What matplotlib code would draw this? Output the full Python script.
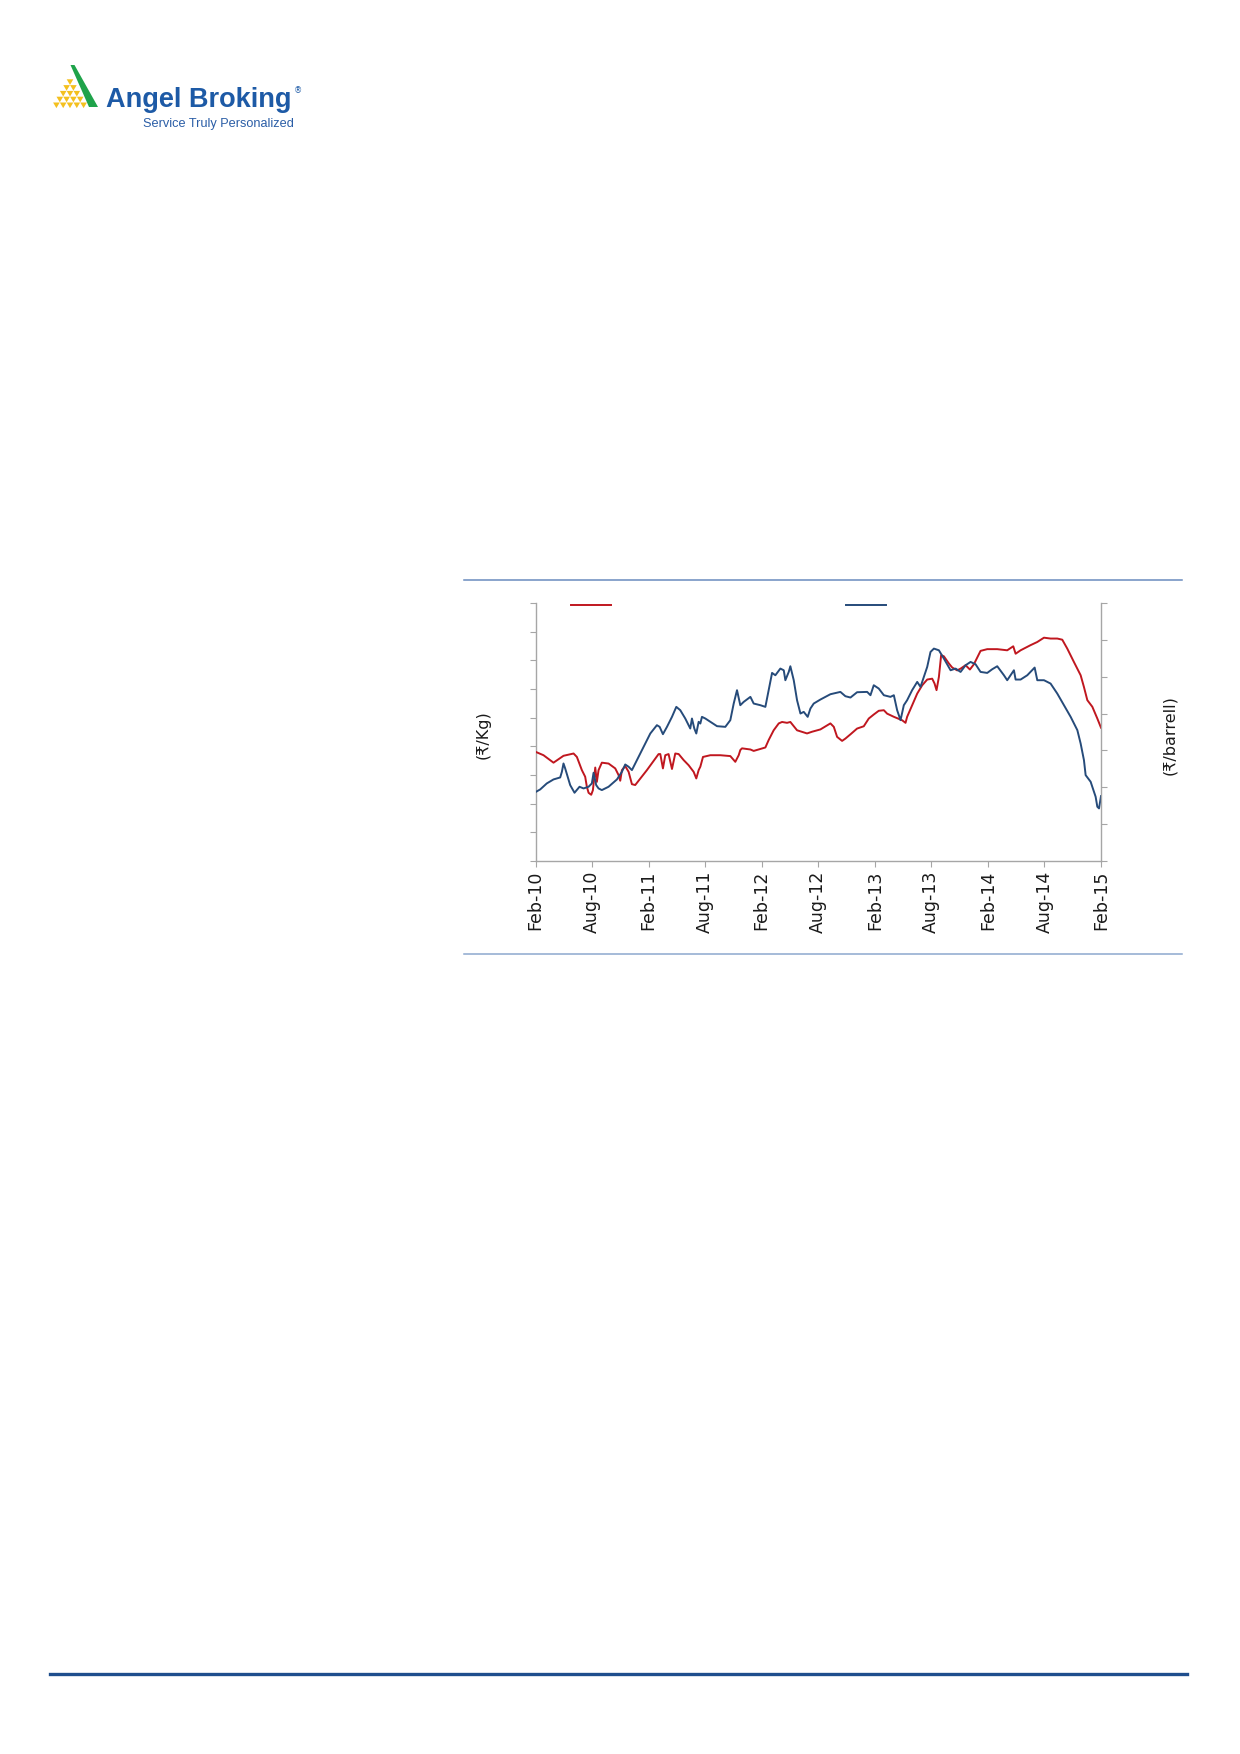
import matplotlib
matplotlib.use('Agg')
import matplotlib.pyplot as plt
from matplotlib.lines import Line2D
from matplotlib.patches import Polygon

# months counted from Feb-10 (0) to Feb-15 (60)
red_months = [0.00, 0.85, 1.91, 2.97, 4.04, 4.39, 4.92, 5.27, 5.45, 5.63,
              5.91, 6.09, 6.34, 6.51, 6.69, 7.04, 7.75, 8.46, 8.81, 8.99,
              9.17, 9.52, 9.88, 10.23, 10.58, 11.82, 13.06, 13.24, 13.52, 13.77,
              14.12, 14.48, 14.83, 15.19, 15.72, 16.25, 16.78, 17.06, 17.31, 17.49,
              17.77, 18.55, 19.61, 20.67, 21.20, 21.56, 21.73, 21.91, 22.80, 23.15,
              24.39, 24.74, 25.27, 25.81, 26.16, 26.69, 27.04, 27.75, 28.81, 29.35,
              30.23, 31.29, 31.65, 32.00, 32.53, 32.88, 33.42, 34.12, 34.83, 35.36,
              35.89, 36.42, 36.96, 37.31, 38.02, 38.90, 39.26, 39.43, 39.96, 40.50,
              41.03, 41.56, 42.09, 42.34, 42.55, 42.80, 43.04, 43.33, 43.86, 44.21,
              44.74, 45.10, 45.63, 46.09, 46.51, 47.22, 47.93, 48.99, 50.05, 50.69,
              50.94, 51.47, 52.53, 53.24, 53.95, 54.65, 55.36, 55.89, 56.42, 57.13,
              57.84, 58.19, 58.55, 59.08, 59.61, 60.00]
# Rs/Kg (left axis)
red_vals = [68.1, 66.9, 64.3, 66.7, 67.5, 66.3, 61.7, 59.4, 55.9, 53.8,
            53.1, 54.7, 62.6, 57.6, 61.7, 64.3, 64.0, 62.3, 60.0, 58.0,
            61.7, 63.1, 61.1, 56.8, 56.5, 61.7, 67.3, 67.3, 62.3, 66.9,
            67.3, 62.1, 67.5, 67.3, 65.2, 63.4, 61.1, 58.8, 61.7, 62.9,
            66.3, 66.9, 66.9, 66.6, 64.6, 66.9, 68.7, 69.3, 68.9, 68.4,
            69.6, 72.2, 75.6, 78.0, 78.5, 78.2, 78.5, 75.6, 74.5, 75.1,
            75.9, 78.0, 76.8, 73.3, 71.9, 72.7, 74.2, 76.2, 77.0, 79.7,
            81.1, 82.4, 82.6, 81.4, 80.3, 79.1, 78.2, 80.3, 84.3, 88.4,
            91.3, 93.3, 93.6, 91.9, 89.6, 94.2, 101.8, 101.4, 98.9, 97.5,
            96.5, 97.1, 98.3, 96.8, 98.6, 103.3, 103.9, 103.9, 103.5, 104.9,
            102.3, 103.5, 105.3, 106.4, 107.9, 107.6, 107.6, 107.2, 104.1, 99.4,
            94.8, 90.7, 86.1, 83.8, 79.7, 76.5]

blue_months = [0.00, 0.50, 1.20, 1.91, 2.62, 2.80, 2.97, 3.15, 3.68, 4.14,
               4.67, 5.10, 5.63, 5.98, 6.16, 6.44, 6.69, 7.04, 7.75, 8.64,
               9.17, 9.52, 9.88, 10.23, 10.76, 11.47, 12.18, 12.88, 13.17, 13.52,
               13.95, 14.48, 14.94, 15.36, 15.89, 16.42, 16.60, 16.85, 17.06, 17.31,
               17.49, 17.66, 18.02, 18.55, 19.26, 20.14, 20.67, 21.03, 21.38, 21.73,
               22.09, 22.80, 23.15, 23.86, 24.39, 24.74, 25.10, 25.45, 25.98, 26.34,
               26.51, 26.87, 27.04, 27.40, 27.75, 28.11, 28.46, 28.88, 29.17, 29.52,
               30.23, 31.29, 32.35, 32.88, 33.42, 34.12, 35.19, 35.54, 35.89, 36.42,
               36.96, 37.66, 38.02, 38.37, 38.73, 39.08, 39.43, 39.96, 40.50, 40.85,
               41.20, 41.56, 41.91, 42.27, 42.80, 43.33, 44.04, 44.57, 45.10, 45.63,
               46.16, 46.69, 47.22, 47.93, 48.46, 48.99, 49.70, 50.05, 50.41, 50.76,
               50.94, 51.47, 52.18, 52.96, 53.24, 53.95, 54.65, 55.36, 56.07, 56.78,
               57.49, 57.84, 58.19, 58.37, 58.90, 59.43, 59.61, 59.79, 60.00]
# Rs/barrel (right axis)
blue_vals = [3870, 3942, 4105, 4213, 4267, 4421, 4646, 4511, 4059, 3852,
             4014, 3969, 4014, 4105, 4394, 4059, 3969, 3924, 4014, 4213,
             4421, 4619, 4556, 4466, 4737, 5098, 5459, 5685, 5640, 5441,
             5640, 5911, 6182, 6092, 5866, 5595, 5866, 5595, 5459, 5776,
             5730, 5911, 5866, 5776, 5658, 5640, 5821, 6272, 6634, 6227,
             6317, 6453, 6272, 6227, 6182, 6634, 7103, 7040, 7221, 7175,
             6905, 7130, 7284, 6905, 6363, 6001, 6046, 5911, 6137, 6272,
             6381, 6525, 6588, 6471, 6435, 6579, 6588, 6498, 6769, 6679,
             6498, 6453, 6498, 6092, 5821, 6227, 6363, 6634, 6859, 6724,
             6995, 7266, 7672, 7763, 7717, 7492, 7175, 7221, 7130, 7311,
             7401, 7338, 7130, 7103, 7203, 7284, 7040, 6905, 7040, 7175,
             6923, 6923, 7040, 7248, 6905, 6905, 6814, 6543, 6227, 5911,
             5550, 5188, 4737, 4330, 4150, 3743, 3472, 3427, 3761]

tick_months = [0, 6, 12, 18, 24, 30, 36, 42, 48, 54, 60]
tick_labels = ['Feb-10', 'Aug-10', 'Feb-11', 'Aug-11', 'Feb-12', 'Aug-12',
               'Feb-13', 'Aug-13', 'Feb-14', 'Aug-14', 'Feb-15']

W, H = 1240, 1754
RED = '#C0171F'
BLUE = '#264B7A'
GREY = '#A6A6A6'
plt.rcParams['font.family'] = ['DejaVu Sans', 'Noto Sans']

fig = plt.figure(figsize=(W / 100, H / 100), dpi=100)


def fx(x):
    return x / W


def fy(y):
    return 1 - y / H


# logo
green = Polygon([(fx(70.5), fy(65)), (fx(74.5), fy(65)), (fx(98), fy(107)), (fx(89), fy(107))],
                closed=True, transform=fig.transFigure, color='#1FA34A', lw=0)
fig.add_artist(green)
for row in range(5):
    cy = 82 + row * 5.8
    for k in range(row + 1):
        cx = 70 - row * 3.4 + k * 6.8
        tri = Polygon([(fx(cx - 3.3), fy(cy - 2.7)), (fx(cx + 3.3), fy(cy - 2.7)), (fx(cx), fy(cy + 2.9))],
                      closed=True, transform=fig.transFigure, color='#F4C01E', lw=0)
        fig.add_artist(tri)
fig.text(fx(106), fy(107), 'Angel Broking', fontsize=19.5, fontweight='bold',
         family='Liberation Sans', color='#1D5AA6', va='baseline', ha='left')
fig.text(fx(294), fy(93), '\u00ae', fontsize=6, color='#1D5AA6', va='baseline', ha='left')
fig.text(fx(143), fy(127), 'Service Truly Personalized', fontsize=9.2,
         family='Liberation Sans', color='#2A5DA6', va='baseline', ha='left')

# chart frame rules
fig.add_artist(Line2D([fx(464), fx(1182)], [fy(580), fy(580)], color='#6A8BBE', lw=1.1))
fig.add_artist(Line2D([fx(464), fx(1182)], [fy(954), fy(954)], color='#8DA8CE', lw=1.1))
fig.add_artist(Line2D([fx(50), fx(1187)], [fy(1674), fy(1674)], color='#1F4E8D', lw=2.4))

ax = fig.add_axes([fx(535.5), fy(861), (1101 - 535.5) / W, (861 - 603) / H])
ax2 = ax.twinx()

ax.plot(red_months, red_vals, color=RED, lw=1.4, solid_joinstyle='round', zorder=3)
ax2.plot(blue_months, blue_vals, color=BLUE, lw=1.4, solid_joinstyle='round', zorder=2)

ax.set_xlim(0, 60)
ax.set_ylim(30, 120)
ax.set_yticks(range(30, 121, 10))
ax2.set_ylim(2000, 9000)
ax2.set_yticks(range(2000, 9001, 1000))
ax.set_xticks(tick_months)
ax.set_xticklabels(tick_labels, rotation=90, fontsize=12.5, color='#1A1A1A')

for a in (ax, ax2):
    a.spines['top'].set_visible(False)
    for s in ('left', 'right', 'bottom'):
        a.spines[s].set_color(GREY)
        a.spines[s].set_linewidth(1.0)
ax.spines['right'].set_visible(False)
ax2.spines['left'].set_visible(False)
ax2.spines['bottom'].set_visible(False)

ax.tick_params(axis='y', direction='out', length=4, color=GREY, labelleft=False)
ax.tick_params(axis='x', direction='out', length=4, color=GREY, pad=3)
ax2.tick_params(axis='y', direction='out', length=4, color=GREY, labelright=False)

# legend keys (labels not shown in the source)
fig.add_artist(Line2D([fx(571), fx(611)], [fy(604.5), fy(604.5)], color=RED, lw=1.4))
fig.add_artist(Line2D([fx(846), fx(886)], [fy(604.5), fy(604.5)], color=BLUE, lw=1.4))

fig.text(fx(483), fy(735), '(\u20b9/Kg)', rotation=90, fontsize=11.5, ha='center', va='center', color='#1A1A1A')
fig.text(fx(1170), fy(735), '(\u20b9/barrell)', rotation=90, fontsize=11.5, ha='center', va='center', color='#1A1A1A')

fig.savefig('out.png', dpi=100)
